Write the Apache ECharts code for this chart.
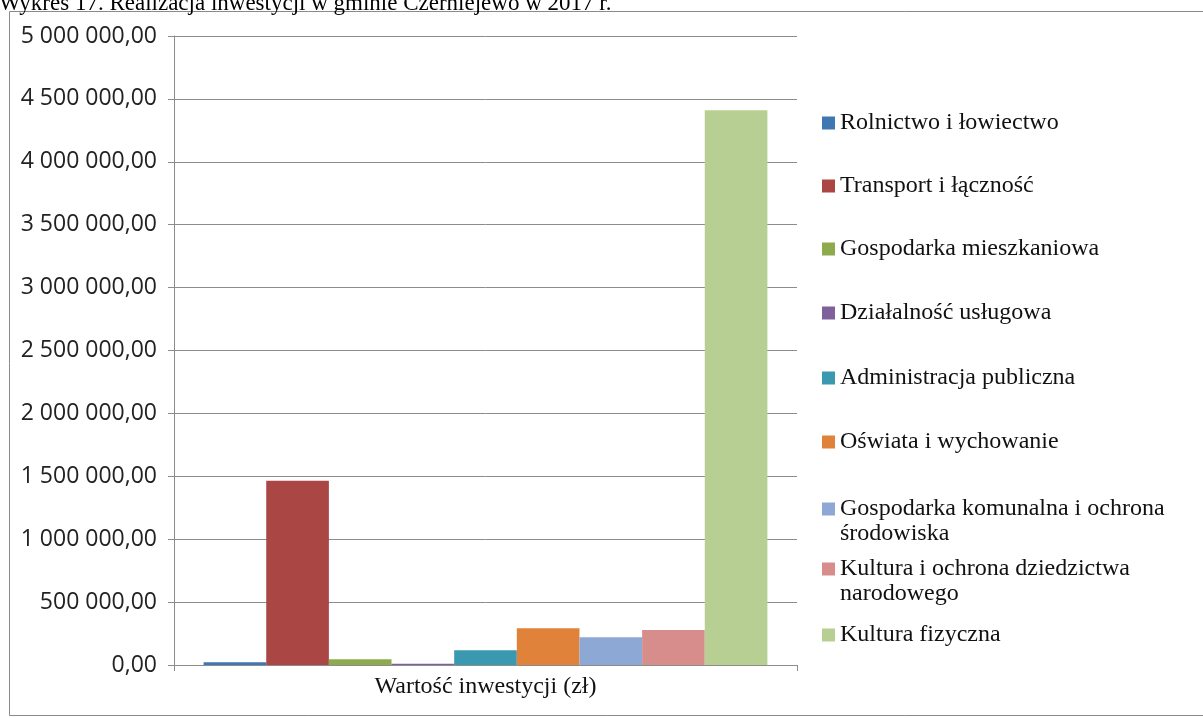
<!DOCTYPE html>
<html>
<head>
<meta charset="utf-8">
<script src="https://cdn.jsdelivr.net/npm/echarts@6/dist/echarts.min.js"></script>
<style>
html,body{margin:0;padding:0;background:#fff;}
#chart{width:1203px;height:718px;}
</style>
</head>
<body>
<div id="chart"></div>
<script>
// ---- data ----
const titleText = 'Wykres 17. Realizacja inwestycji w gminie Czerniejewo w 2017 r.';
const categories = ['Wartość inwestycji (zł)'];
const seriesNames = [
  'Rolnictwo i łowiectwo',
  'Transport i łączność',
  'Gospodarka mieszkaniowa',
  'Działalność usługowa',
  'Administracja publiczna',
  'Oświata i wychowanie',
  'Gospodarka komunalna i ochrona\nśrodowiska',
  'Kultura i ochrona dziedzictwa\nnarodowego',
  'Kultura fizyczna'
];
const seriesValues = [22000, 1465000, 45000, 10000, 117000, 292000, 220000, 279000, 4410000];
const yMin = 0, yMax = 5000000, yStep = 500000;

// ---- styles / layout ----
const colors = ['#3E77B1', '#AA4644', '#8DAA4E', '#7D609C', '#3A98B1', '#E0823A', '#8DA8D4', '#D68D8C', '#B8CF93'];
const legendCenters = [122, 185, 248, 312, 377, 441, 508, 568, 634];
const contLineOffset = 27;
const legendLeft = 822;
const serif = 'Liberation Serif';
const sans = 'Open Sans';

function fmt(v) {
  return Math.round(v).toString().replace(/\B(?=(\d{3})+(?!\d))/g, ' ') + ',00';
}

const chart = echarts.init(document.getElementById('chart'), null, {renderer: 'canvas'});

const series = seriesNames.map((n, i) => ({
  name: n,
  type: 'bar',
  data: [seriesValues[i]],
  itemStyle: {color: colors[i]},
  barGap: '0%',
  barCategoryGap: '9.5%'
}));

const legends = seriesNames.map((n, i) => ({
  data: [n],
  orient: 'vertical',
  left: legendLeft,
  top: legendCenters[i] - 12,
  padding: 0,
  icon: 'rect',
  itemWidth: 13,
  itemHeight: 13,
  selectedMode: false,
  formatter: name => name.split('\n')[0],
  textStyle: {fontFamily: serif, fontSize: 24, color: '#111', lineHeight: 26}
}));

const graphics = [
  {
    type: 'rect', silent: true, z: -1,
    shape: {x: 9.5, y: 11.5, width: 1200, height: 704},
    style: {fill: 'none', stroke: '#8a8a8a', lineWidth: 1}
  },
  {
    type: 'text', silent: true,
    style: {x: -1, y: 15, text: titleText, font: '23px "Liberation Serif"', fill: '#000', verticalAlign: 'bottom'}
  }
];
seriesNames.forEach((n, i) => {
  const parts = n.split('\n');
  if (parts.length > 1) {
    graphics.push({
      type: 'text', silent: true,
      style: {x: legendLeft + 18, y: legendCenters[i] + contLineOffset - 1, text: parts.slice(1).join('\n'),
        font: '24px "Liberation Serif"', fill: '#111', verticalAlign: 'middle'}
    });
  }
});

chart.setOption({
  animation: false,
  backgroundColor: '#fff',
  textStyle: {fontFamily: serif},
  grid: {left: 174, right: 406, top: 36, bottom: 53, containLabel: false},
  legend: legends,
  graphic: graphics,
  xAxis: {
    type: 'category',
    data: categories,
    axisLine: {show: true, lineStyle: {color: '#8c8c8c', width: 1}},
    axisTick: {show: true, length: 6, lineStyle: {color: '#8c8c8c'}},
    axisLabel: {fontFamily: serif, fontSize: 24, color: '#111', margin: 10}
  },
  yAxis: {
    type: 'value',
    min: yMin, max: yMax, interval: yStep,
    axisLine: {show: true, lineStyle: {color: '#8c8c8c', width: 1}},
    axisTick: {show: true, length: 6, lineStyle: {color: '#8c8c8c'}},
    splitLine: {show: true, lineStyle: {color: '#8c8c8c', width: 1}},
    axisLabel: {fontFamily: sans, fontSize: 23, color: '#222', margin: 17, formatter: fmt}
  },
  series: series
});
</script>
</body>
</html>
